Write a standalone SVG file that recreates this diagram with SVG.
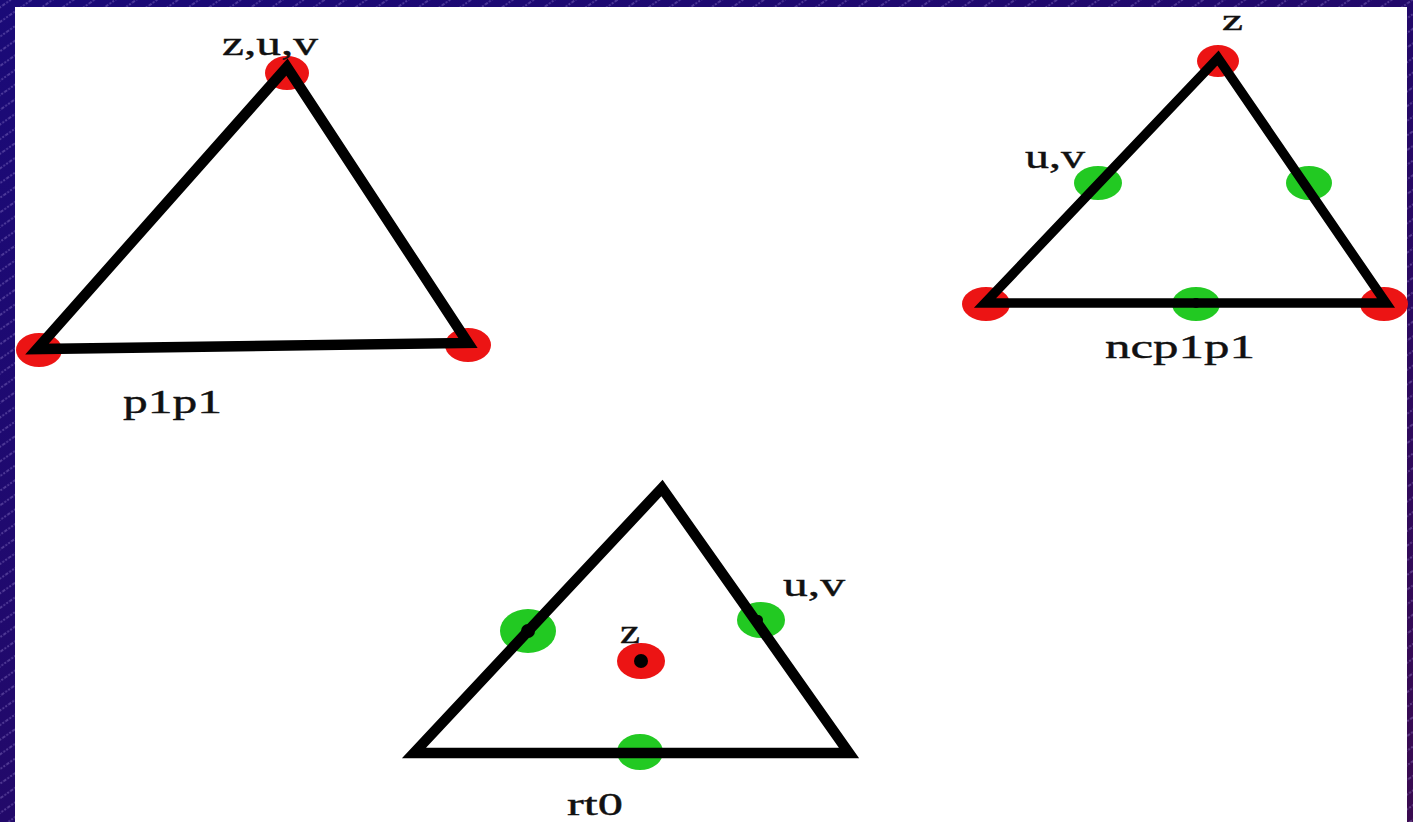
<svg xmlns="http://www.w3.org/2000/svg" width="1413" height="822" viewBox="0 0 1413 822">
  <defs>
    <linearGradient id="bg" x1="0" y1="0" x2="1" y2="1">
      <stop offset="0" stop-color="#1a0a78"/>
      <stop offset="0.5" stop-color="#22096a"/>
      <stop offset="1" stop-color="#3a0b50"/>
    </linearGradient>
    <pattern id="hatch" width="12" height="12" patternUnits="userSpaceOnUse" patternTransform="rotate(-35)">
      <line x1="0" y1="6" x2="12" y2="6" stroke="#a894e0" stroke-width="0.9" stroke-dasharray="2 1.5" stroke-opacity="0.75"/>
    </pattern>
  </defs>
  <style>
    .tri { fill: none; stroke: #000; stroke-width: 10.5; stroke-linejoin: miter; stroke-miterlimit: 10; }
    .red { fill: #ec1414; }
    .grn { fill: #22c922; }
    .ctr { fill: #000; }
    .lbl { font-family: "Liberation Serif", "Times New Roman", serif; font-size: 34px; fill: #111; stroke: #111; stroke-width: 0.4; }
  </style>
  <rect x="0" y="0" width="1413" height="822" fill="url(#bg)"/>
  <rect x="0" y="0" width="1413" height="822" fill="url(#hatch)"/>
  <rect x="15" y="7" width="1392" height="815" fill="#ffffff"/>

  <g id="p1p1">
    <ellipse class="red" cx="287" cy="73" rx="22" ry="17"/>
    <ellipse class="red" cx="39" cy="350" rx="23" ry="17"/>
    <ellipse class="red" cx="468" cy="345" rx="23" ry="17"/>
    <polygon class="tri" points="287,67 37,349 468,343"/>
    <text class="lbl" x="222" y="55" textLength="96" lengthAdjust="spacingAndGlyphs">z,u,v</text>
    <text class="lbl" x="123" y="413" textLength="99" lengthAdjust="spacingAndGlyphs">p1p1</text>
  </g>

  <g id="ncp1p1">
    <ellipse class="red" cx="1218" cy="61" rx="21" ry="16"/>
    <ellipse class="red" cx="986" cy="304" rx="24" ry="17"/>
    <ellipse class="red" cx="1384" cy="304" rx="24" ry="17"/>
    <ellipse class="grn" cx="1098" cy="183" rx="24" ry="17"/>
    <ellipse class="grn" cx="1309" cy="183" rx="23" ry="17"/>
    <ellipse class="grn" cx="1196" cy="304" rx="24" ry="17"/>
    <polygon class="tri" style="stroke-width:9.5" points="1218,58 985,303 1386,303"/>
    <circle class="ctr" cx="1196" cy="303" r="5"/>
    <text class="lbl" style="font-size:30px" x="1222" y="30" textLength="21" lengthAdjust="spacingAndGlyphs">z</text>
    <text class="lbl" x="1025" y="168" textLength="60" lengthAdjust="spacingAndGlyphs">u,v</text>
    <text class="lbl" x="1105" y="358" textLength="150" lengthAdjust="spacingAndGlyphs">ncp1p1</text>
  </g>

  <g id="rt0">
    <ellipse class="grn" cx="528" cy="631" rx="28" ry="22"/>
    <ellipse class="grn" cx="761" cy="620" rx="24" ry="18"/>
    <ellipse class="grn" cx="640" cy="752" rx="23" ry="18"/>
    <ellipse class="red" cx="641" cy="661" rx="24" ry="18"/>
    <polygon class="tri" points="662,488 414,753 849,753"/>
    <circle class="ctr" cx="528" cy="631" r="7"/>
    <circle class="ctr" cx="758" cy="620" r="5"/>
    <circle class="ctr" cx="640" cy="753" r="5"/>
    <circle class="ctr" cx="641" cy="661" r="7"/>
    <text class="lbl" x="620" y="643" textLength="20" lengthAdjust="spacingAndGlyphs">z</text>
    <text class="lbl" x="783" y="596" textLength="62" lengthAdjust="spacingAndGlyphs">u,v</text>
    <text class="lbl" style="font-size:32px" x="567" y="815" textLength="56" lengthAdjust="spacingAndGlyphs">rt0</text>
  </g>
</svg>
